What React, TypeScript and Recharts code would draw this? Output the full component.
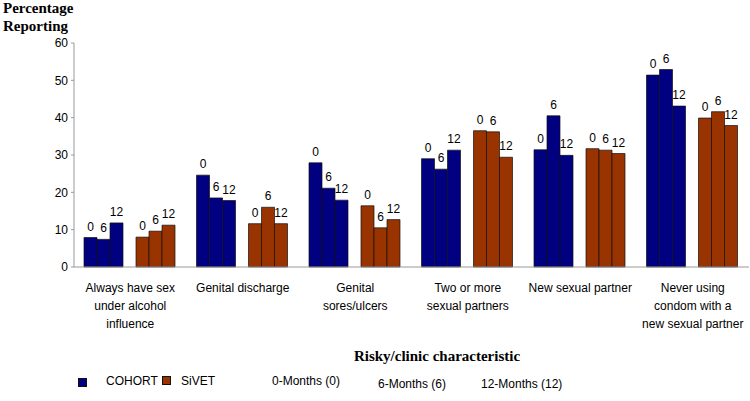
import React from "react";
import { BarChart, Bar, XAxis, YAxis, LabelList } from "recharts";

const categories = [
  "Always have sex\nunder alcohol\ninfluence",
  "Genital discharge",
  "Genital\nsores/ulcers",
  "Two or more\nsexual partners",
  "New sexual partner",
  "Never using\ncondom with a\nnew sexual partner",
];
const cohort0 = [7.9, 24.6, 27.9, 29.0, 31.4, 51.4];
const cohort6 = [7.4, 18.5, 21.1, 26.2, 40.5, 52.9];
const cohort12 = [11.8, 17.8, 17.9, 31.3, 29.9, 43.1];
const sivet0 = [8.0, 11.6, 16.4, 36.5, 31.7, 39.9];
const sivet6 = [9.6, 16.0, 10.5, 36.2, 31.3, 41.6];
const sivet12 = [11.2, 11.6, 12.7, 29.4, 30.4, 37.9];
const monthLabels = ["0", "6", "12"];
const yTicks = [0, 10, 20, 30, 40, 50, 60];
const boundaryTicks = [0, 1, 2, 3, 4, 5, 6];
const legendGroups = ["COHORT", "SiVET"];
const legendMonths = ["0-Months (0)", "6-Months (6)", "12-Months (12)"];
const yTitle = ["Percentage", "Reporting"];
const xTitle = "Risky/clinic characteristic";

const BLUE = "#000080";
const BROWN = "#993300";
const SANS = "'Liberation Sans', Arial, sans-serif";
const SERIF = "'Liberation Serif', 'Times New Roman', serif";

const data = categories.map((name, i) => ({
  name,
  c0: cohort0[i],
  c6: cohort6[i],
  c12: cohort12[i],
  s0: sivet0[i],
  s6: sivet6[i],
  s12: sivet12[i],
}));

const CatTick = (props: any) => {
  const { x, y, payload } = props;
  const lines = String(payload.value).split("\n");
  return (
    <text x={x} y={y} textAnchor="middle" fontFamily={SANS} fontSize={12} fill="#000">
      {lines.map((l, i) => (
        <tspan key={i} x={x} dy={i === 0 ? 25 : 18}>
          {l}
        </tspan>
      ))}
    </text>
  );
};

const series = [
  { key: "c0", fill: BLUE, label: 0 },
  { key: "c6", fill: BLUE, label: 1 },
  { key: "c12", fill: BLUE, label: 2 },
  { key: "gap", fill: "none", label: -1 },
  { key: "s0", fill: BROWN, label: 0 },
  { key: "s6", fill: BROWN, label: 1 },
  { key: "s12", fill: BROWN, label: 2 },
];

export default function App() {
  return (
    <div
      style={{
        position: "absolute",
        left: 0,
        top: 0,
        width: 750,
        height: 401,
        background: "#fff",
        overflow: "hidden",
      }}
    >
      <BarChart
        width={750}
        height={401}
        data={data}
        margin={{ top: 43, right: 1, left: 0, bottom: 0 }}
        barCategoryGap={10}
        barGap={0}
      >
        <XAxis
          xAxisId="grid"
          type="number"
          domain={[0, 6]}
          ticks={boundaryTicks}
          height={0}
          axisLine={false}
          tickLine={{ stroke: "#999" }}
          tickSize={4}
          tick={false}
          allowDataOverflow
        />
        <XAxis
          xAxisId="cat"
          dataKey="name"
          height={134}
          tickLine={false}
          tickSize={0}
          tickMargin={0}
          axisLine={{ stroke: "#999" }}
          tick={<CatTick />}
          interval={0}
        />
        <YAxis
          domain={[0, 60]}
          ticks={yTicks}
          width={74}
          tickSize={3}
          tickMargin={3}
          interval={0}
          axisLine={{ stroke: "#999" }}
          tickLine={{ stroke: "#999" }}
          tick={{ fontSize: 12, fill: "#000", fontFamily: SANS }}
        />
        {series.map((s) => (
          <Bar
            key={s.key}
            xAxisId="cat"
            dataKey={s.key}
            fill={s.fill}
            stroke={s.label >= 0 ? "#111" : "none"}
            strokeWidth={0.7}
            isAnimationActive={false}
          >
            {s.label >= 0 && (
              <LabelList
                dataKey={s.key}
                position="top"
                offset={7}
                formatter={() => monthLabels[s.label]}
                fontSize={12}
                fill="#000"
                fontFamily={SANS}
              />
            )}
          </Bar>
        ))}
      </BarChart>

      <div
        style={{
          position: "absolute",
          left: 3,
          top: 0,
          fontFamily: SERIF,
          fontWeight: "bold",
          fontSize: 15,
          lineHeight: "17.5px",
          color: "#000",
        }}
      >
        {yTitle.map((t) => (
          <div key={t}>{t}</div>
        ))}
      </div>

      <div
        style={{
          position: "absolute",
          left: 337,
          width: 200,
          top: 348,
          textAlign: "center",
          fontFamily: SERIF,
          fontWeight: "bold",
          fontSize: 15,
          color: "#000",
          whiteSpace: "nowrap",
        }}
      >
        {xTitle}
      </div>

      <div style={{ position: "absolute", left: 78, top: 378, width: 7, height: 7, background: BLUE, border: "0.5px solid #111" }} />
      <div style={{ position: "absolute", left: 106, top: 374, fontFamily: SANS, fontSize: 12 }}>{legendGroups[0]}</div>
      <div style={{ position: "absolute", left: 162, top: 376, width: 7, height: 7, background: BROWN, border: "0.5px solid #111" }} />
      <div style={{ position: "absolute", left: 181, top: 374, fontFamily: SANS, fontSize: 12 }}>{legendGroups[1]}</div>
      <div style={{ position: "absolute", left: 272, top: 374, fontFamily: SANS, fontSize: 12 }}>{legendMonths[0]}</div>
      <div style={{ position: "absolute", left: 378, top: 377, fontFamily: SANS, fontSize: 12 }}>{legendMonths[1]}</div>
      <div style={{ position: "absolute", left: 481, top: 377, fontFamily: SANS, fontSize: 12 }}>{legendMonths[2]}</div>
    </div>
  );
}
